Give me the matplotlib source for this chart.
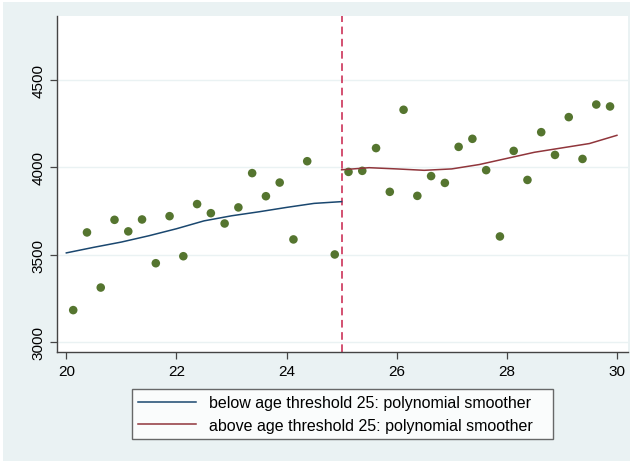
import numpy as np
import matplotlib.pyplot as plt
from matplotlib.patches import Rectangle

plt.rcParams['font.family'] = ['Liberation Sans', 'DejaVu Sans']

# ===== DATA =====
age = [20.125, 20.375, 20.625, 20.875, 21.125, 21.375, 21.625, 21.875,
       22.125, 22.375, 22.625, 22.875, 23.125, 23.375, 23.625, 23.875,
       24.125, 24.375, 24.875, 25.125, 25.375, 25.625, 25.875,
       26.125, 26.375, 26.625, 26.875, 27.125, 27.375, 27.625, 27.875,
       28.125, 28.375, 28.625, 28.875, 29.125, 29.375, 29.625, 29.875]
outcome = [3183, 3627, 3312, 3699, 3633, 3701, 3451, 3720,
           3491, 3789, 3737, 3678, 3770, 3966, 3834, 3912,
           3587, 4034, 3501, 3973, 3979, 4109, 3859,
           4328, 3836, 3949, 3910, 4116, 4162, 3983, 3604,
           4093, 3927, 4200, 4070, 4286, 4047, 4358, 4347]

below_x = [20.0, 20.5, 21.0, 21.5, 22.0, 22.5, 23.0, 23.5, 24.0, 24.5, 25.0]
below_y = [3510, 3542, 3572, 3608, 3648, 3693, 3722, 3745, 3770, 3793, 3803]
above_x = [25.0, 25.5, 26.0, 26.5, 27.0, 27.5, 28.0, 28.5, 29.0, 29.5, 30.0]
above_y = [3985, 3997, 3990, 3982, 3990, 4015, 4050, 4085, 4110, 4135, 4182]

threshold = 25
yticks = [3000, 3500, 4000, 4500]
xticks = [20, 22, 24, 26, 28, 30]

bg = '#eaf2f3'

fig = plt.figure(figsize=(6.33, 4.64), dpi=100)
fig.patches.append(Rectangle((0.004, 0.004), 0.992, 0.99, transform=fig.transFigure,
                             facecolor=bg, edgecolor='none', zorder=-10))

ax = fig.add_axes([0.090, 0.239, 0.902, 0.724])
ax.set_facecolor('white')

ax.scatter(age, outcome, s=38, color='#55752f', edgecolors='none', zorder=3)

l1, = ax.plot(below_x, below_y, color='#1a476f', lw=1.1, zorder=4,
              label='below age threshold 25: polynomial smoother')
l2, = ax.plot(above_x, above_y, color='#90353b', lw=1.1, zorder=4,
              label='above age threshold 25: polynomial smoother')
ax.axvline(threshold, color='#c8204a', lw=1.1, ls=(0, (5, 3)), zorder=2)

ax.set_xlim(19.83, 30.2)
ax.set_ylim(2943, 4863)
ax.set_xticks(xticks)
ax.set_yticks(yticks)
ax.set_yticklabels([str(t) for t in yticks], rotation=90, va='center')
ax.tick_params(axis='both', labelsize=11, color='#444444', length=5, width=0.9,
               direction='out')
ax.grid(axis='y', color=bg, lw=1.0)
ax.set_axisbelow(True)

for side in ['top', 'right']:
    ax.spines[side].set_visible(False)
for side in ['left', 'bottom']:
    ax.spines[side].set_color('#444444')
    ax.spines[side].set_linewidth(1.0)

leg = fig.legend(handles=[l1, l2], loc='center', mode='expand',
                 bbox_to_anchor=(0.2085, 0.0496, 0.665, 0.112),
                 fontsize=11.5, frameon=True, fancybox=False, handlelength=3.6,
                 handletextpad=0.8, labelspacing=0.45, borderpad=0.4,
                 borderaxespad=0.0)
leg.get_frame().set_edgecolor('#444444')
leg.get_frame().set_linewidth(1.0)

fig.savefig('out.png', dpi=100)
